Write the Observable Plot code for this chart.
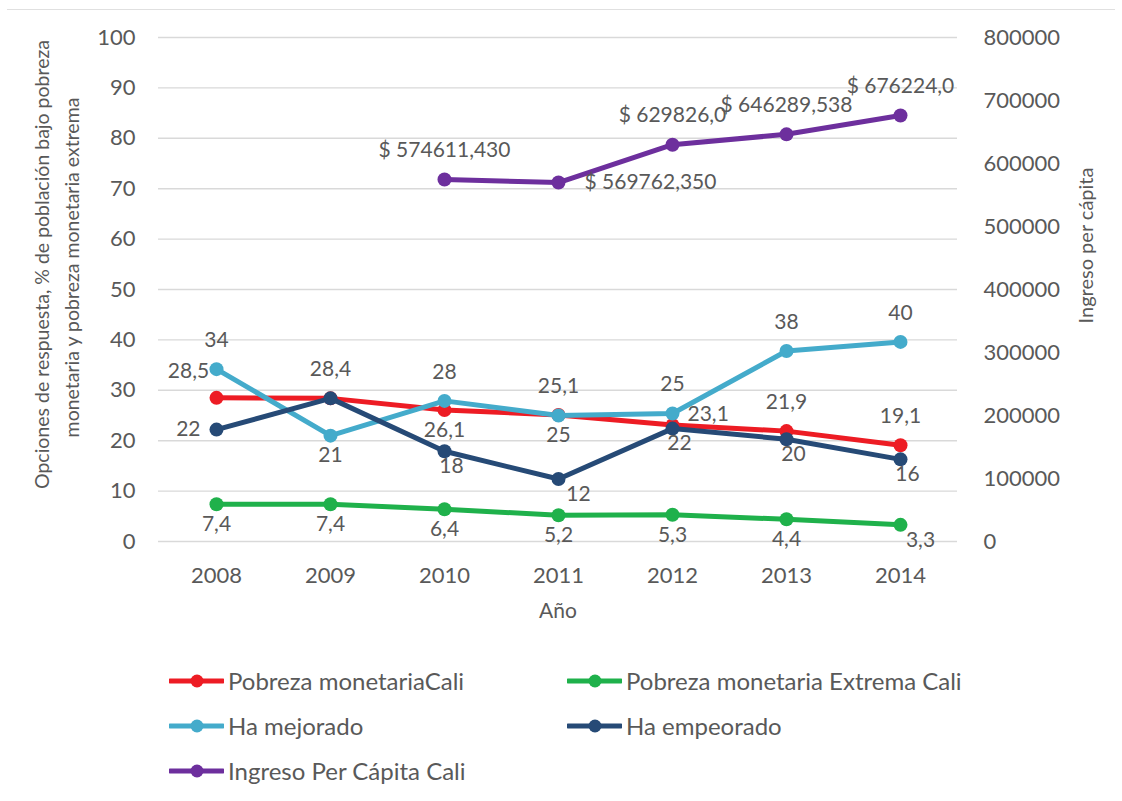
<!DOCTYPE html>
<html><head><meta charset="utf-8">
<script src="https://cdn.jsdelivr.net/npm/d3@7"></script>
<script src="https://cdn.jsdelivr.net/npm/@observablehq/plot@0.6"></script>
<style>
body{margin:0;background:#fff;font-family:Lato,sans-serif;}
#wrap{position:relative;width:1122px;height:801px;overflow:hidden;}
#topline{position:absolute;left:7px;top:9px;width:1108px;height:0;border-top:1.5px solid #e0e0e0;}
#chart{position:absolute;left:0;top:0;}
.item{position:absolute;display:flex;align-items:center;font-size:24px;color:#595959;white-space:nowrap;height:30px;line-height:30px;}
.item svg{display:block;}
</style></head><body>
<div id="wrap"><div id="topline"></div><div id="chart"></div><div id="legend"></div></div>
<script>
// ---------- data ----------
const years = ["2008", "2009", "2010", "2011", "2012", "2013", "2014"];
const seriesNames = ["Pobreza monetariaCali", "Pobreza monetaria Extrema Cali", "Ha mejorado", "Ha empeorado", "Ingreso Per Cápita Cali"];
const pobreza = [28.5, 28.4, 26.1, 25.1, 23.1, 21.9, 19.1];
const pobrezaExtrema = [7.4, 7.4, 6.4, 5.2, 5.3, 4.4, 3.3];
const haMejorado = [34.2, 21, 27.9, 25, 25.4, 37.8, 39.6];
const haEmpeorado = [22.2, 28.4, 17.9, 12.4, 22.4, 20.3, 16.3];
const ingreso = [null, null, 574611.43, 569762.35, 629826.0, 646289.538, 676224.0];
const ingresoLabels = [null, null, "$ 574611,430", "$ 569762,350", "$ 629826,0", "$ 646289,538", "$ 676224,0"];
const leftTicks = [0, 10, 20, 30, 40, 50, 60, 70, 80, 90, 100];
const rightTicks = [0, 100000, 200000, 300000, 400000, 500000, 600000, 700000, 800000];
const rightMax = 800000;

// ---------- styling (not data) ----------
const colors = ["#ed1c24", "#1fb14b", "#44abcb", "#264a76", "#6d2f9d"];
const labelPlace = [
  ["aboveLeft", "above", "below", "above", "aboveRight", "above", "above"],
  ["below", "below", "below", "below", "below", "below", "belowRight"],
  ["above", "below", "above", "below", "above", "above", "above"],
  ["left", null, "belowS", "belowRight", "belowS", "belowS", "belowS"],
  [null, null, "above", "right", "above", "above", "above"]
];
const places = {
  above: {dx: 0, dy: -29, textAnchor: "middle"},
  below: {dx: 0, dy: 20, textAnchor: "middle"},
  belowS: {dx: 7, dy: 15, textAnchor: "middle"},
  aboveLeft: {dx: -28, dy: -27, textAnchor: "middle"},
  aboveRight: {dx: 15, dy: -11, textAnchor: "start"},
  belowRight: {dx: 20, dy: 15, textAnchor: "middle"},
  left: {dx: -16, dy: 0, textAnchor: "end"},
  right: {dx: 26, dy: 0, textAnchor: "start"}
};

const fmt1 = v => v.toFixed(1).replace(".", ",");
const fmt0 = v => Math.round(v).toString();
const seriesData = [
  {vals: pobreza, lab: pobreza.map(fmt1)},
  {vals: pobrezaExtrema, lab: pobrezaExtrema.map(fmt1)},
  {vals: haMejorado, lab: haMejorado.map(fmt0)},
  {vals: haEmpeorado, lab: haEmpeorado.map(fmt0)},
  {vals: ingreso.map(v => v == null ? null : v / rightMax * 100), lab: ingresoLabels}
];
const rows = [];
seriesData.forEach((s, si) => {
  s.vals.forEach((v, i) => {
    if (v == null) return;
    rows.push({series: seriesNames[si], year: years[i], y: v, label: s.lab[i], place: labelPlace[si][i]});
  });
});

const titleStyle = {fill: "#595959", textAnchor: "middle", lineAnchor: "middle", fontSize: 20};
const marks = [
  Plot.ruleY(leftTicks, {stroke: "#d9d9d9", strokeWidth: 1.4}),
  Plot.axisY(leftTicks, {anchor: "left", tickSize: 0, tickPadding: 23, label: null, fontSize: 22}),
  Plot.axisY(rightTicks.map(v => v / rightMax * 100), {anchor: "right", tickSize: 0, tickPadding: 26, label: null, fontSize: 22, tickFormat: d => String(Math.round(d * rightMax / 100))}),
  Plot.axisX({tickSize: 0, tickPadding: 26, label: null, fontSize: 22}),
  Plot.text(["Año"], {...titleStyle, fontSize: 21, frameAnchor: "bottom", dy: 70}),
  Plot.text(["Opciones de respuesta, % de población bajo pobreza"], {...titleStyle, fontSize: 19.5, frameAnchor: "left", dx: -116, dy: -25, rotate: -90}),
  Plot.text(["monetaria y pobreza monetaria extrema"], {...titleStyle, fontSize: 19.5, frameAnchor: "left", dx: -86, dy: -22, rotate: -90}),
  Plot.text(["Ingreso per cápita"], {...titleStyle, frameAnchor: "right", dx: 129, dy: -44, rotate: -90})
];
seriesNames.forEach((name, si) => {
  const d = rows.filter(r => r.series === name);
  marks.push(Plot.line(d, {x: "year", y: "y", stroke: colors[si], strokeWidth: 5}));
  marks.push(Plot.dot(d, {x: "year", y: "y", fill: colors[si], r: 7, stroke: "none"}));
});
Object.entries(places).forEach(([key, p]) => {
  marks.push(Plot.text(rows.filter(r => r.place === key), {x: "year", y: "y", text: "label", dx: p.dx, dy: p.dy, textAnchor: p.textAnchor, fill: "#595959"}));
});

const chart = Plot.plot({
  width: 1122,
  height: 630,
  marginTop: 37,
  marginBottom: 89,
  marginLeft: 158,
  marginRight: 165,
  x: {type: "point", domain: years, padding: 0.5},
  y: {domain: [0, 100]},
  style: {fontFamily: "Lato, sans-serif", fontSize: "21px", color: "#595959", background: "transparent", overflow: "visible"},
  marks
});
document.getElementById("chart").appendChild(chart);

// ---------- legend ----------
const legendPos = [[169, 681], [567, 681], [169, 726], [567, 726], [169, 771]];
const legend = document.getElementById("legend");
seriesNames.forEach((name, i) => {
  const div = document.createElement("div");
  div.className = "item";
  div.style.left = legendPos[i][0] + "px";
  div.style.top = (legendPos[i][1] - 15) + "px";
  div.innerHTML = `<svg width="55" height="16"><line x1="1" x2="54" y1="8" y2="8" stroke="${colors[i]}" stroke-width="5" stroke-linecap="round"/><circle cx="28" cy="8" r="6.5" fill="${colors[i]}"/></svg><span style="margin-left:4px">${name}</span>`;
  legend.appendChild(div);
});
</script>
</body></html>
